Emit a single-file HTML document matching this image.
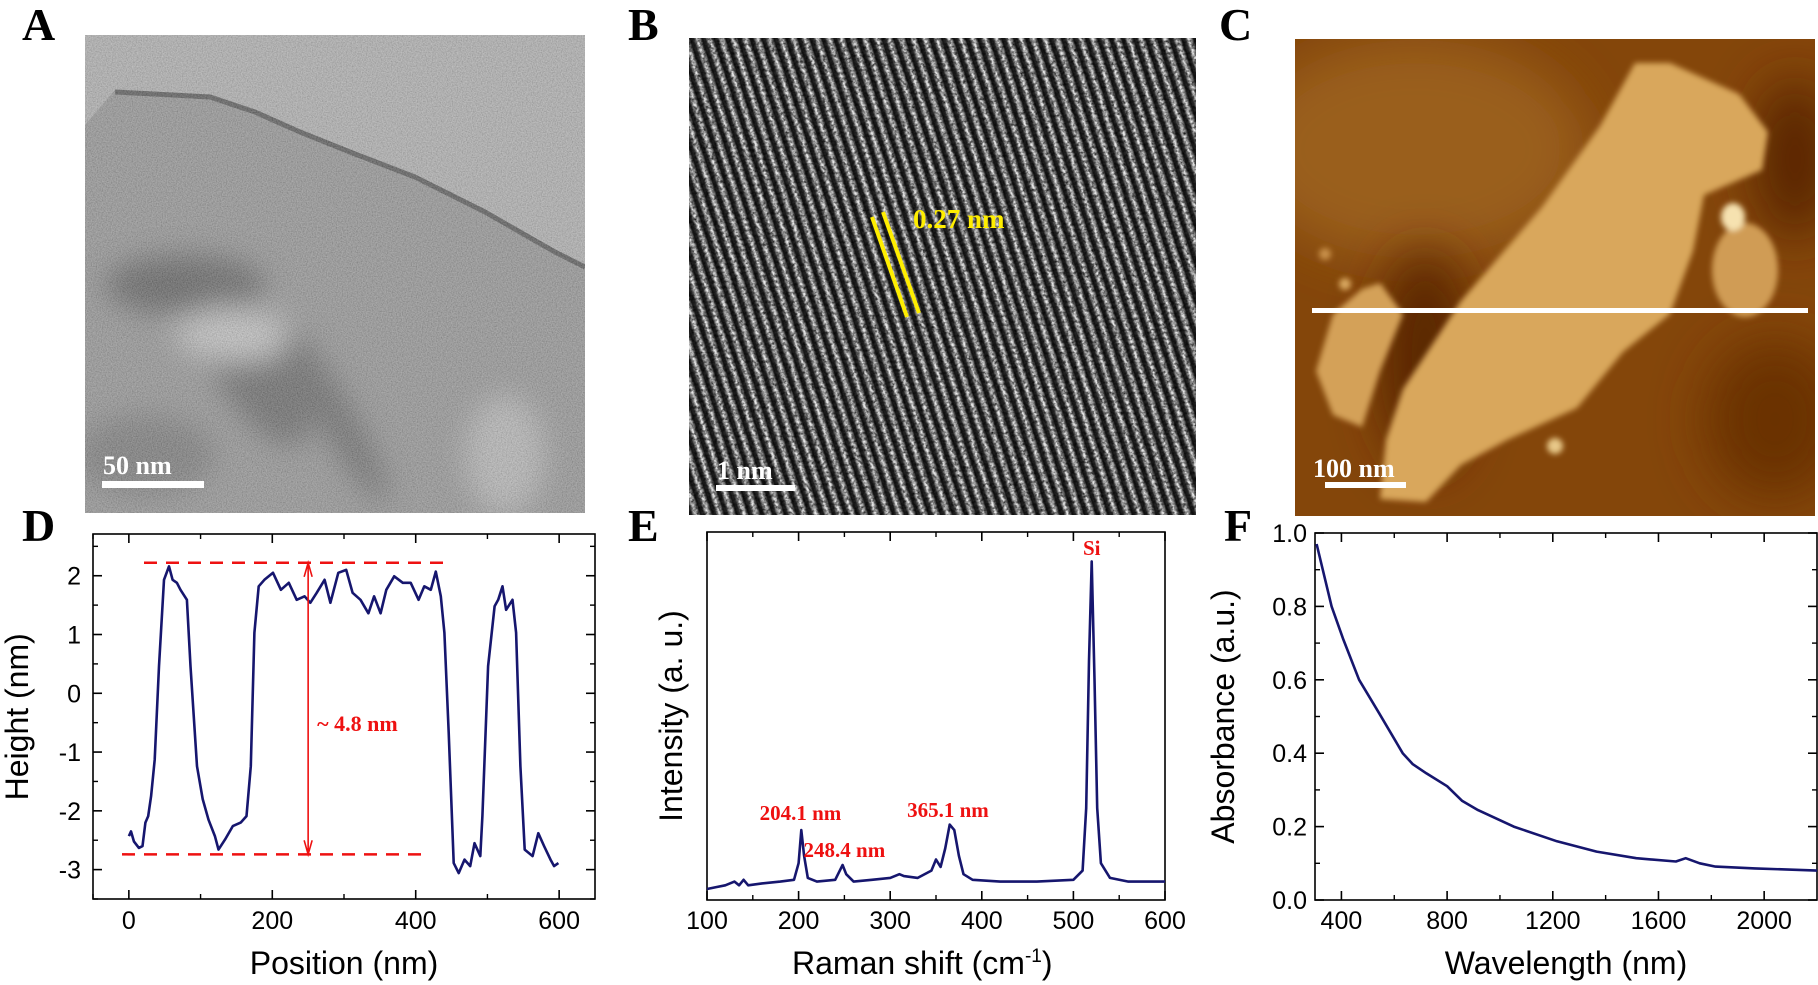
<!DOCTYPE html>
<html><head><meta charset="utf-8"><style>
html,body{margin:0;padding:0;background:#fff;}
body{width:1818px;height:985px;position:relative;overflow:hidden;font-family:"Liberation Sans",sans-serif;}
.lt{position:absolute;font-family:"Liberation Serif",serif;font-weight:bold;font-size:46px;line-height:1;color:#000;}
.img{position:absolute;overflow:hidden;}
</style></head><body>
<div class="lt" style="left:22px;top:2px">A</div>
<div class="lt" style="left:628px;top:2px">B</div>
<div class="lt" style="left:1219px;top:2px">C</div>
<div class="lt" style="left:22px;top:503px">D</div>
<div class="lt" style="left:628px;top:503px">E</div>
<div class="lt" style="left:1224px;top:503px">F</div>

<svg class="img" style="left:85px;top:35px" width="500" height="478">
<defs><filter id="nA" x="0" y="0" width="1" height="1"><feTurbulence type="fractalNoise" baseFrequency="0.8" numOctaves="2" seed="3"/><feColorMatrix values="1 0 0 0 0 1 0 0 0 0 1 0 0 0 0 0 0 0 0 0.35"/></filter>
<filter id="bl" x="-50%" y="-50%" width="200%" height="200%"><feGaussianBlur stdDeviation="14"/></filter></defs>
<rect width="500" height="478" fill="#8c8c8c"/>
<polygon points="0,0 500,0 500,230 470,215 400,175 330,140 265,115 215,95 170,75 125,60 30,55 0,90" fill="#a9a9a9"/>
<polyline points="30,57 125,62 170,77 215,97 265,117 330,142 400,177 470,217 500,232" fill="none" stroke="#4a4a4a" stroke-width="5"/>
<g filter="url(#bl)" opacity="0.85">
<ellipse cx="100" cy="250" rx="80" ry="30" fill="#4a4a4a"/>
<ellipse cx="170" cy="330" rx="40" ry="90" fill="#555" transform="rotate(-30 170 330)"/>
<ellipse cx="150" cy="300" rx="60" ry="25" fill="#c8c8c8"/>
<ellipse cx="60" cy="420" rx="70" ry="40" fill="#6a6a6a"/>
<ellipse cx="420" cy="420" rx="40" ry="60" fill="#b8b8b8"/>
<ellipse cx="250" cy="380" rx="18" ry="100" fill="#555" transform="rotate(-30 250 380)"/>
</g>
<rect width="500" height="478" filter="url(#nA)"/>
<rect x="17" y="446" width="102" height="7" fill="#fff"/>
<text x="18" y="439" font-family="Liberation Serif" font-weight="bold" font-size="26" fill="#fff">50 nm</text>
</svg>

<div class="img" style="left:689px;top:38px;width:507px;height:477px;background:repeating-linear-gradient(72deg,#151515 0px,#2a2a2a 3px,#d0d0d0 6px,#f0f0f0 7px,#9a9a9a 9px,#151515 11.4px);"></div>
<svg class="img" style="left:689px;top:38px" width="507" height="477">
<defs><filter id="nB" x="0" y="0" width="1" height="1"><feTurbulence type="fractalNoise" baseFrequency="0.35" numOctaves="2" seed="7"/><feColorMatrix values="0 0 0 0 0 0 0 0 0 0 0 0 0 0 0 1.6 0 0 0 -0.55"/></filter></defs>
<rect width="507" height="477" filter="url(#nB)"/>
<line x1="183" y1="179" x2="218" y2="279" stroke="#ffee00" stroke-width="4"/>
<line x1="194" y1="174" x2="230" y2="275" stroke="#ffee00" stroke-width="4"/>
<text x="224" y="190" font-family="Liberation Serif" font-weight="bold" font-size="27" fill="#ffee00">0.27 nm</text>
<rect x="27" y="447" width="79" height="6" fill="#fff"/>
<text x="28" y="441" font-family="Liberation Serif" font-weight="bold" font-size="26" fill="#fff">1 nm</text>
</svg>

<svg class="img" style="left:1295px;top:39px" width="520" height="477">
<defs><filter id="bC" x="-20%" y="-20%" width="140%" height="140%"><feGaussianBlur stdDeviation="3"/></filter><filter id="bC2" x="-100%" y="-100%" width="300%" height="300%"><feGaussianBlur stdDeviation="25"/></filter></defs>
<rect width="520" height="477" fill="#84460a"/>
<ellipse cx="120" cy="110" rx="170" ry="110" fill="#9a5e1c" filter="url(#bC2)"/>
<ellipse cx="130" cy="320" rx="45" ry="110" fill="#5a2800" filter="url(#bC2)"/>
<ellipse cx="480" cy="380" rx="70" ry="80" fill="#6a3206" filter="url(#bC2)"/>
<ellipse cx="500" cy="120" rx="40" ry="80" fill="#5a2800" filter="url(#bC2)"/>
<g filter="url(#bC)">
<polygon points="340,24 375,24 444,55 473,93 467,131 409,156 398,212 375,275 328,313 282,369 212,401 166,426 131,463 85,460 91,401 108,350 166,262 247,168 305,87" fill="#d9a75c"/>
<polygon points="85,244 108,275 85,332 67,388 38,376 21,332 38,275 67,250" fill="#d4a158"/>
<ellipse cx="450" cy="231" rx="33" ry="47" fill="#d09c54"/>
<ellipse cx="438" cy="178" rx="12" ry="14" fill="#f6e2b0"/>
<circle cx="50" cy="245" r="6" fill="#d9a860"/><circle cx="30" cy="215" r="6" fill="#c89048"/>
<circle cx="260" cy="407" r="8" fill="#e8c888"/>
</g>
<rect x="17" y="269" width="496" height="5" fill="#fff"/>
<rect x="30" y="443" width="81" height="6" fill="#fff"/>
<text x="18" y="438" font-family="Liberation Serif" font-weight="bold" font-size="26" fill="#fff">100 nm</text>
</svg>

<svg id="chartD" style="position:absolute;left:0;top:0" width="1818" height="985"></svg>

<script>
// Panel D data
const dPos=[0,3,7,14,19,23,27,31,36,42,49,56,61,67,72,81,86,95,103,111,120,125,134,145,156,164,170,175,181,189,201,212,223,234,245,253,262,273,281,292,303,312,323,334,342,351,359,370,382,393,404,412,421,428,435,440,446,453,460,468,476,482,490,493,501,510,515,521,526,535,540,546,552,563,571,579,588,593,599];
const dHeight=[-2.43,-2.35,-2.52,-2.63,-2.6,-2.2,-2.09,-1.75,-1.13,0.46,1.93,2.16,1.93,1.88,1.76,1.59,0.46,-1.24,-1.8,-2.15,-2.43,-2.66,-2.49,-2.26,-2.2,-2.09,-1.24,1.03,1.82,1.93,2.05,1.76,1.88,1.59,1.65,1.54,1.71,1.93,1.54,2.05,2.1,1.71,1.59,1.36,1.65,1.36,1.76,1.99,1.88,1.88,1.59,1.82,1.76,2.07,1.65,1.03,-0.67,-2.89,-3.06,-2.83,-2.94,-2.55,-2.77,-2.09,0.46,1.48,1.59,1.82,1.42,1.59,1.03,-1.24,-2.66,-2.77,-2.38,-2.6,-2.83,-2.94,-2.89];
const dXTicks=[0,200,400,600];
const dYTicks=[-3,-2,-1,0,1,2];
const dTopLevel=2.22, dBottomLevel=-2.74, dArrowPos=250;
// Panel E data
const eShift=[100,110,120,130,135,140,145,160,180,195,200,203,206,210,220,240,245,248,252,260,280,300,310,315,330,345,350,355,360,365,370,375,380,390,420,460,500,510,514,517,520,523,526,530,540,560,600];
const eIntensity=[3,3.5,4,5,4,5.5,4,4.5,5,5.5,10,19,12,6,5,5.5,8,9.5,7,5,5.5,6,7,6.5,6,8,11,9,14,20.5,19,12,7,5.5,5,5,5.5,8,25,65,92,60,25,10,6,5,5];
const eXTicks=[100,200,300,400,500,600];
const ePeakLabels=["204.1 nm","248.4 nm","365.1 nm","Si"];
const ePeakPos=[204,248,365,520];
// Panel F data
const fWave=[306,363,407,467,542,632,670,722,800,857,917,1052,1216,1366,1516,1666,1703,1756,1816,1965,2200];
const fAbs=[0.97,0.80,0.71,0.60,0.51,0.40,0.37,0.345,0.31,0.27,0.245,0.20,0.16,0.132,0.114,0.105,0.114,0.10,0.091,0.086,0.08];
const fXTicks=[400,800,1200,1600,2000];
const fYTicks=[0.0,0.2,0.4,0.6,0.8,1.0];

const svg=document.getElementById('chartD');
const NS='http://www.w3.org/2000/svg';
function mk(tag,attrs,parent){const e=document.createElementNS(NS,tag);for(const k in attrs)e.setAttribute(k,attrs[k]);(parent||svg).appendChild(e);return e;}
function scale(d0,d1,r0,r1){return v=>r0+(v-d0)/(d1-d0)*(r1-r0);}
const NAVY='#16166e';
const TF=25, TT=32;

function frame(x0,y0,x1,y1,name){
  const r=mk('rect',{x:x0,y:y0,width:x1-x0,height:y1-y0,fill:'none',stroke:'#000','stroke-width':1.6});
  
  
}
function xTicks(ticks,minors,sx,y0,y1,fmt,labelY,name){
  const g=mk('g',{});
  
  
  minors.forEach(v=>{const x=sx(v);mk('line',{x1:x,x2:x,y1:y1,y2:y1-5,stroke:'#000','stroke-width':1.4},g);mk('line',{x1:x,x2:x,y1:y0,y2:y0+5,stroke:'#000','stroke-width':1.4},g);});
  ticks.forEach(v=>{const x=sx(v);mk('line',{x1:x,x2:x,y1:y1,y2:y1-9,stroke:'#000','stroke-width':1.6},g);mk('line',{x1:x,x2:x,y1:y0,y2:y0+9,stroke:'#000','stroke-width':1.6},g);
    const t=mk('text',{x:x,y:labelY,'text-anchor':'middle','font-size':TF,fill:'#000'},g);t.textContent=fmt(v);});
}
function yTicks(ticks,minors,sy,x0,x1,fmt,labelX,name){
  const g=mk('g',{});
  
  
  minors.forEach(v=>{const y=sy(v);mk('line',{x1:x0,x2:x0+5,y1:y,y2:y,stroke:'#000','stroke-width':1.4},g);mk('line',{x1:x1,x2:x1-5,y1:y,y2:y,stroke:'#000','stroke-width':1.4},g);});
  ticks.forEach(v=>{const y=sy(v);mk('line',{x1:x0,x2:x0+9,y1:y,y2:y,stroke:'#000','stroke-width':1.6},g);mk('line',{x1:x1,x2:x1-9,y1:y,y2:y,stroke:'#000','stroke-width':1.6},g);
    if(fmt){const t=mk('text',{x:labelX,y:y+9,'text-anchor':'end','font-size':TF,fill:'#000'},g);t.textContent=fmt(v);}});
}
function title(txt,x,y,rot,name){
  const t=mk('text',{x:x,y:y,'text-anchor':'middle','font-size':TT,fill:'#000',transform:rot?`rotate(-90 ${x} ${y})`:''});
  t.textContent=txt;
  
  
  return t;
}
function line(xs,ys,sx,sy,name){
  const p=mk('polyline',{points:xs.map((v,i)=>sx(v).toFixed(1)+','+sy(ys[i]).toFixed(1)).join(' '),fill:'none',stroke:NAVY,'stroke-width':2.6,'stroke-linejoin':'round'});
  
  
}

// ---- Panel D
(function(){
  const X0=93,X1=595,Y0=534,Y1=899;
  const sx=scale(-50,650,X0,X1), sy=scale(-3.5,2.71,Y1,Y0);
  frame(X0,Y0,X1,Y1,'plot-frame-d');
  xTicks(dXTicks,[-50,100,300,500],sx,Y0,Y1,v=>v,929,'x-axis-d');
  yTicks(dYTicks,[-3.5,-2.5,-1.5,-0.5,0.5,1.5,2.5],sy,X0,X1,v=>v,81,'y-axis-d');
  title('Position (nm)',sx(300),974,false,'x-axis-title-d');
  title('Height (nm)',28,sy(-0.4),true,'y-axis-title-d');
  line(dPos,dHeight,sx,sy,'height-profile-line');
  const t1=mk('line',{x1:144,x2:447,y1:sy(dTopLevel),y2:sy(dTopLevel),stroke:'#ee1111','stroke-width':2.5,'stroke-dasharray':'13 9'});
  
  
  const t2=mk('line',{x1:122,x2:426,y1:sy(dBottomLevel),y2:sy(dBottomLevel),stroke:'#ee1111','stroke-width':2.5,'stroke-dasharray':'13 9'});
  
  
  const ax=sx(dArrowPos), ya=sy(dTopLevel), yb=sy(dBottomLevel);
  const ar=mk('path',{d:`M${ax},${ya} L${ax},${yb} M${ax-4},${ya+14} L${ax},${ya} L${ax+4},${ya+14} M${ax-4},${yb-14} L${ax},${yb} L${ax+4},${yb-14}`,fill:'none',stroke:'#ee1111','stroke-width':1.6});
  
  
  const lb=mk('text',{x:ax+9,y:731,'font-family':'Liberation Serif','font-weight':'bold','font-size':22,fill:'#ee1111'});
  lb.textContent='~ 4.8 nm';
  
  
})();

// ---- Panel E
(function(){
  const X0=707,X1=1165,Y0=532,Y1=900;
  const sx=scale(100,600,X0,X1), sy=scale(0,100,Y1,Y0);
  frame(X0,Y0,X1,Y1,'plot-frame-e');
  xTicks(eXTicks,[150,250,350,450,550],sx,Y0,Y1,v=>v,929,'x-axis-e');
  const tt=title('Raman shift (cm',sx(335),974,false,'x-axis-title-e');
  const sup=mk('tspan',{dy:-12,'font-size':19},tt);sup.textContent='-1';
  const cl=mk('tspan',{dy:12},tt);cl.textContent=')';
  title('Intensity (a. u.)',682,sy(50),true,'y-axis-title-e');
  line(eShift,eIntensity,sx,sy,'raman-spectrum-line');
  const lx=[ePeakPos[0]-2,ePeakPos[1]+2,ePeakPos[2]-2,ePeakPos[3]], ly=[820,857,817,555];
  ePeakLabels.forEach((s,i)=>{
    const t=mk('text',{x:sx(lx[i]),y:ly[i],'text-anchor':'middle','font-family':'Liberation Serif','font-weight':'bold','font-size':21,fill:'#ee1111'});
    t.textContent=s;
    
    
  });
})();

// ---- Panel F
(function(){
  const X0=1315,X1=1817,Y0=533,Y1=900;
  const sx=scale(300,2200,X0,X1), sy=scale(0,1.0,Y1,Y0);
  frame(X0,Y0,X1,Y1,'plot-frame-f');
  xTicks(fXTicks,[600,1000,1400,1800],sx,Y0,Y1,v=>v,929,'x-axis-f');
  yTicks(fYTicks,[0.1,0.3,0.5,0.7,0.9],sy,X0,X1,v=>v.toFixed(1),1307,'y-axis-f');
  title('Wavelength (nm)',sx(1250),974,false,'x-axis-title-f');
  title('Absorbance (a.u.)',1234,sy(0.5),true,'y-axis-title-f');
  line(fWave,fAbs,sx,sy,'absorbance-line');
})();
</script>
</body></html>
